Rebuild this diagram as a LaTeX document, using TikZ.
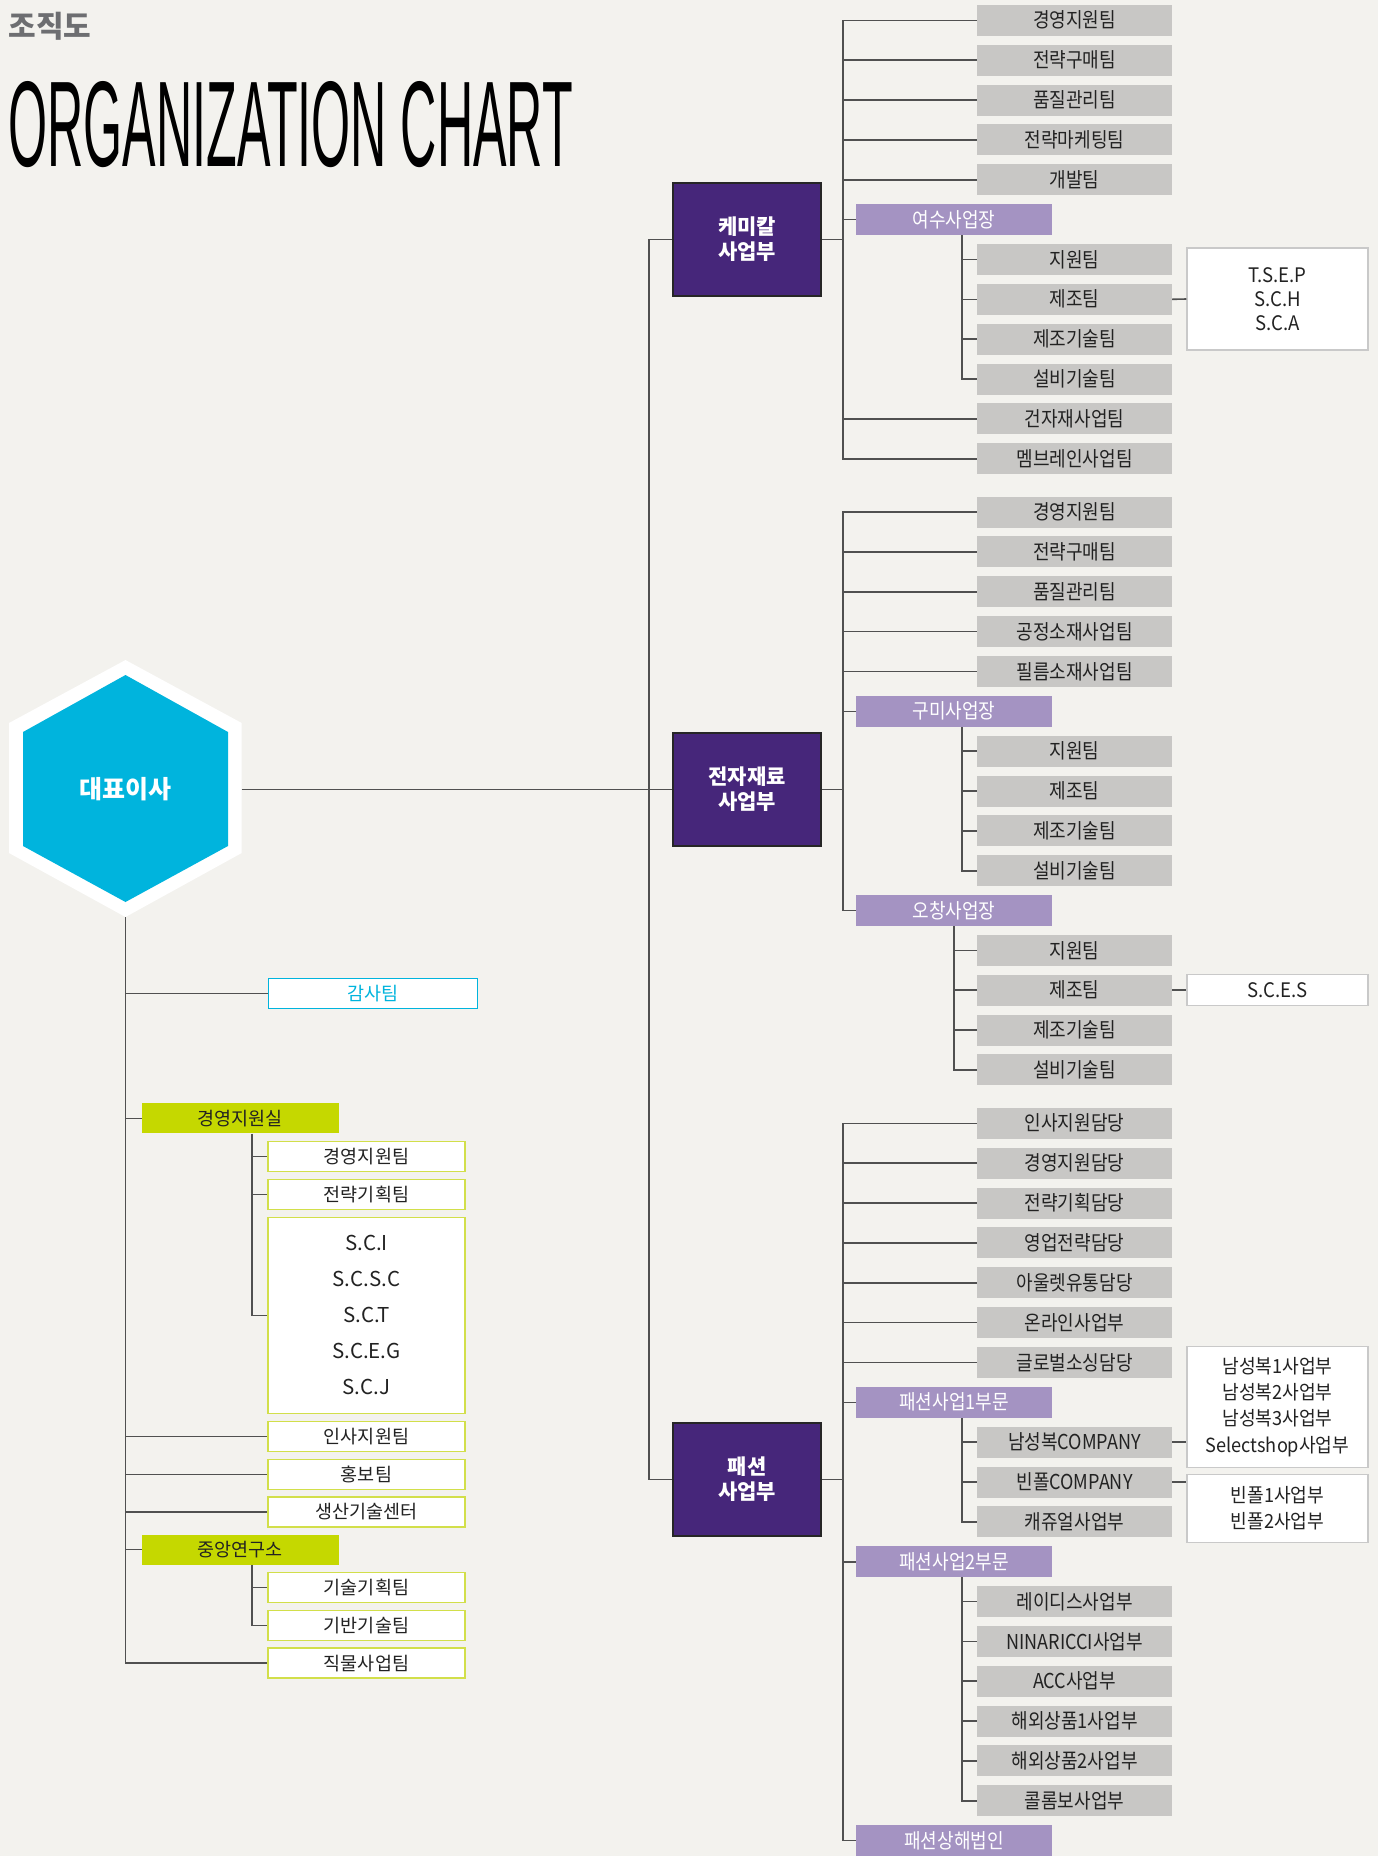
\documentclass[tikz,border=0pt]{standalone}
\usepackage{tikz}
\usepackage{graphicx}
\usepackage{fontspec}
\setmainfont{Noto Sans CJK KR}
\newfontfamily\kcond[FakeStretch=0.88]{Noto Sans CJK KR}
\newfontfamily\knote[FakeStretch=0.93]{Noto Sans CJK KR}
\newfontfamily\titlefont{Liberation Sans}

\definecolor{paper}{HTML}{F3F2EE}
\definecolor{boxgray}{HTML}{C8C7C5}
\definecolor{divpurple}{HTML}{46267A}
\definecolor{sitepurple}{HTML}{A493C2}
\definecolor{ceoblue}{HTML}{00B4DD}
\definecolor{officegreen}{HTML}{C5D800}
\definecolor{greenline}{HTML}{D2DF4A}
\definecolor{notegray}{HTML}{C9C9C9}
\definecolor{linegray}{HTML}{505050}
\definecolor{textdark}{HTML}{222222}
\definecolor{headgray}{HTML}{6D6E71}

\begin{document}
\begin{tikzpicture}[
    x=1pt, y=-1pt,
    line/.style={draw=linegray, line width=1.6pt},
    divbox/.style={draw=black!85, line width=1.2pt, fill=divpurple, minimum width=148pt, minimum height=113pt, align=center, text=white, font=\bfseries\fontsize{21}{25}\selectfont},
    teambox/.style={fill=boxgray, minimum width=195pt, minimum height=31pt, inner sep=0pt, text=textdark, font=\kcond\fontsize{20.5}{22}\selectfont},
    sitebox/.style={fill=sitepurple, minimum width=196pt, minimum height=31pt, inner sep=0pt, text=white, font=\kcond\fontsize{20.5}{22}\selectfont},
    notebox/.style={draw=notegray, line width=1.5pt, fill=white, minimum width=181pt, inner sep=0pt, align=center, text=textdark, font=\knote\fontsize{20}{24}\selectfont},
    officebox/.style={fill=officegreen, minimum width=197pt, minimum height=30pt, inner sep=0pt, text=textdark, font=\fontsize{18.5}{20}\selectfont},
    subbox/.style={draw=greenline, line width=1.5pt, fill=white, minimum width=197pt, minimum height=30pt, inner sep=0pt, align=center, text=textdark, font=\fontsize{18.5}{20}\selectfont},
]
    \fill[paper] (0,0) rectangle (1378,1856);
    \useasboundingbox (0,0) rectangle (1378,1856);

    % Heading
    \node[anchor=north west, inner sep=0pt, text=headgray, font=\bfseries\fontsize{30}{30}\selectfont] (head) at (8.4,12) {조직도};
    \node[anchor=north west, inner sep=0pt] (title) at (8.4,81.7) {\resizebox{564pt}{85pt}{\titlefont ORGANIZATION CHART}};

    % CEO hexagon
    \fill[white] (125.5,660) -- (241.7,723) -- (241.7,853) -- (125.5,917) -- (9,853) -- (9,723) -- cycle;
    \fill[ceoblue] (125.5,675) -- (228,732) -- (228,846) -- (125.5,902) -- (23,846) -- (23,732) -- cycle;
    \node[text=white, font=\bfseries\fontsize{25}{25}\selectfont] (ceo) at (125.5,789) {대표이사};
    \coordinate (ceoE) at (241.7,789.5);
    \coordinate (ceoS) at (125.5,917);

    % Staff under the CEO
    \node[subbox, draw=ceoblue, text=ceoblue, minimum width=209pt] (audit) at (373,993.5) {감사팀};
    \node[officebox] (mgmt) at (240.3,1118.3) {경영지원실};
    \node[subbox] (m1) at (366.5,1156.5) {경영지원팀};
    \node[subbox] (m2) at (366.5,1194.3) {전략기획팀};
    \node[subbox, minimum height=196pt, font=\fontsize{20.5}{36}\selectfont] (m3) at (366.5,1315.3) {S.C.I\\S.C.S.C\\S.C.T\\S.C.E.G\\S.C.J};
    \node[subbox] (hr) at (366.5,1436.5) {인사지원팀};
    \node[subbox] (pr) at (366.5,1474.3) {홍보팀};
    \node[subbox] (prod) at (366.5,1512) {생산기술센터};
    \node[officebox] (lab) at (240.3,1549.5) {중앙연구소};
    \node[subbox] (l1) at (366.5,1587.5) {기술기획팀};
    \node[subbox] (l2) at (366.5,1625.3) {기반기술팀};
    \node[subbox] (fabric) at (366.5,1663.2) {직물사업팀};

    \draw[line] (ceoS) |- (audit.west) (ceoS) |- (mgmt.west) (ceoS) |- (hr.west) (ceoS) |- (pr.west)
        (ceoS) |- (prod.west) (ceoS) |- (lab.west) (ceoS) |- (fabric.west);
    \draw[line] ([xshift=11.4pt]mgmt.south) |- (m1.west) ([xshift=11.4pt]mgmt.south) |- (m2.west) ([xshift=11.4pt]mgmt.south) |- (m3.west);
    \draw[line] ([xshift=11.4pt]lab.south) |- (l1.west) ([xshift=11.4pt]lab.south) |- (l2.west);

    % Business divisions
    \node[divbox] (chem) at (747,239.5) {케미칼\\사업부};
    \node[divbox] (elec) at (747,789.5) {전자재료\\사업부};
    \node[divbox] (fash) at (747,1479.5) {패션\\사업부};
    \coordinate (hub) at (649,789.5);
    \draw[line] (ceoE) -- (elec.west);
    \draw[line] (hub) |- (chem.west) (hub) |- (fash.west);

    % Chemical
    \coordinate (chemT) at (843,239.5);
    \node[teambox] (c1) at (1074.5,20.3) {경영지원팀};
    \node[teambox] (c2) at (1074.5,60.2) {전략구매팀};
    \node[teambox] (c3) at (1074.5,100) {품질관리팀};
    \node[teambox] (c4) at (1074.5,139.9) {전략마케팅팀};
    \node[teambox] (c5) at (1074.5,179.7) {개발팀};
    \node[sitebox] (yeosu) at (954,219.6) {여수사업장};
    \node[teambox] (y1) at (1074.5,259.4) {지원팀};
    \node[teambox] (y2) at (1074.5,299.3) {제조팀};
    \node[teambox] (y3) at (1074.5,339.1) {제조기술팀};
    \node[teambox] (y4) at (1074.5,379) {설비기술팀};
    \node[teambox] (c6) at (1074.5,418.8) {건자재사업팀};
    \node[teambox] (c7) at (1074.5,458.7) {멤브레인사업팀};
    \node[notebox, minimum height=102pt] (yeosuNote) at (1277.5,299) {T.S.E.P\\S.C.H\\S.C.A};

    \draw[line] (chem.east) -- (chemT);
    \draw[line] (chemT) |- (c1.west) (chemT) |- (c2.west) (chemT) |- (c3.west) (chemT) |- (c4.west)
        (chemT) |- (c5.west) (chemT) |- (yeosu.west) (chemT) |- (c6.west) (chemT) |- (c7.west);
    \draw[line] ([xshift=8pt]yeosu.south) |- (y1.west) ([xshift=8pt]yeosu.south) |- (y2.west)
        ([xshift=8pt]yeosu.south) |- (y3.west) ([xshift=8pt]yeosu.south) |- (y4.west);
    \draw[line] (y2.east) -- (yeosuNote.west);

    % Electronic materials
    \coordinate (elecT) at (843,789.5);
    \node[teambox] (e1) at (1074.5,512) {경영지원팀};
    \node[teambox] (e2) at (1074.5,551.9) {전략구매팀};
    \node[teambox] (e3) at (1074.5,591.7) {품질관리팀};
    \node[teambox] (e4) at (1074.5,631.6) {공정소재사업팀};
    \node[teambox] (e5) at (1074.5,671.4) {필름소재사업팀};
    \node[sitebox] (gumi) at (954,711.3) {구미사업장};
    \node[teambox] (g1) at (1074.5,751.1) {지원팀};
    \node[teambox] (g2) at (1074.5,791) {제조팀};
    \node[teambox] (g3) at (1074.5,830.8) {제조기술팀};
    \node[teambox] (g4) at (1074.5,870.7) {설비기술팀};
    \node[sitebox] (ochang) at (954,910.5) {오창사업장};
    \node[teambox] (o1) at (1074.5,950.4) {지원팀};
    \node[teambox] (o2) at (1074.5,990.2) {제조팀};
    \node[teambox] (o3) at (1074.5,1030.1) {제조기술팀};
    \node[teambox] (o4) at (1074.5,1069.9) {설비기술팀};
    \node[notebox, minimum height=31pt] (ochangNote) at (1277.5,990.2) {S.C.E.S};

    \draw[line] (elec.east) -- (elecT);
    \draw[line] (elecT) |- (e1.west) (elecT) |- (e2.west) (elecT) |- (e3.west) (elecT) |- (e4.west)
        (elecT) |- (e5.west) (elecT) |- (gumi.west) (elecT) |- (ochang.west);
    \draw[line] ([xshift=8pt]gumi.south) |- (g1.west) ([xshift=8pt]gumi.south) |- (g2.west)
        ([xshift=8pt]gumi.south) |- (g3.west) ([xshift=8pt]gumi.south) |- (g4.west);
    \draw[line] (ochang.south) |- (o1.west) (ochang.south) |- (o2.west) (ochang.south) |- (o3.west) (ochang.south) |- (o4.west);
    \draw[line] (o2.east) -- (ochangNote.west);

    % Fashion
    \coordinate (fashT) at (843,1479.5);
    \node[teambox] (f1) at (1074.5,1123.3) {인사지원담당};
    \node[teambox] (f2) at (1074.5,1163.2) {경영지원담당};
    \node[teambox] (f3) at (1074.5,1203) {전략기획담당};
    \node[teambox] (f4) at (1074.5,1242.9) {영업전략담당};
    \node[teambox] (f5) at (1074.5,1282.7) {아울렛유통담당};
    \node[teambox] (f6) at (1074.5,1322.6) {온라인사업부};
    \node[teambox] (f7) at (1074.5,1362.4) {글로벌소싱담당};
    \node[sitebox] (part1) at (954,1402.3) {패션사업1부문};
    \node[teambox] (p1) at (1074.5,1442.1) {남성복COMPANY};
    \node[teambox] (p2) at (1074.5,1482) {빈폴COMPANY};
    \node[teambox] (p3) at (1074.5,1521.8) {캐쥬얼사업부};
    \node[sitebox] (part2) at (954,1561.7) {패션사업2부문};
    \node[teambox] (q1) at (1074.5,1601.5) {레이디스사업부};
    \node[teambox] (q2) at (1074.5,1641.4) {NINARICCI사업부};
    \node[teambox] (q3) at (1074.5,1681.2) {ACC사업부};
    \node[teambox] (q4) at (1074.5,1721.1) {해외상품1사업부};
    \node[teambox] (q5) at (1074.5,1760.9) {해외상품2사업부};
    \node[teambox] (q6) at (1074.5,1800.8) {콜롬보사업부};
    \node[sitebox] (shanghai) at (954,1840.6) {패션상해법인};
    \node[notebox, minimum height=121pt, font=\knote\fontsize{19.5}{26.4}\selectfont] (menNote) at (1277.5,1406.8) {남성복1사업부\\남성복2사업부\\남성복3사업부\\Selectshop사업부};
    \node[notebox, minimum height=68pt, font=\knote\fontsize{19.5}{26.4}\selectfont] (beanNote) at (1277.5,1508.4) {빈폴1사업부\\빈폴2사업부};

    \draw[line] (fash.east) -- (fashT);
    \draw[line] (fashT) |- (f1.west) (fashT) |- (f2.west) (fashT) |- (f3.west) (fashT) |- (f4.west)
        (fashT) |- (f5.west) (fashT) |- (f6.west) (fashT) |- (f7.west)
        (fashT) |- (part1.west) (fashT) |- (part2.west) (fashT) |- (shanghai.west);
    \draw[line] ([xshift=8pt]part1.south) |- (p1.west) ([xshift=8pt]part1.south) |- (p2.west) ([xshift=8pt]part1.south) |- (p3.west);
    \draw[line] ([xshift=8pt]part2.south) |- (q1.west) ([xshift=8pt]part2.south) |- (q2.west) ([xshift=8pt]part2.south) |- (q3.west)
        ([xshift=8pt]part2.south) |- (q4.west) ([xshift=8pt]part2.south) |- (q5.west) ([xshift=8pt]part2.south) |- (q6.west);
    \draw[line] (p1.east) -- (p1.east -| menNote.west);
    \draw[line] (p2.east) -- (p2.east -| beanNote.west);
\end{tikzpicture}
\end{document}
